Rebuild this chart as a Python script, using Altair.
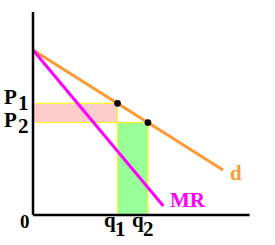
import altair as alt
import pandas as pd

# Economic model values (quantity on x, price on y)
demand_q = [0.0, 10.0]
demand_p = [10.0, 2.73]
mr_q = [0.0, 6.86]
mr_p = [10.0, 0.55]
q_vals = [4.45, 6.05]          # q1, q2
p_vals = [6.77, 5.60]          # P1, P2
axis_x_max = 11.4
axis_y_max = 12.3

# labels: text, x, y
lab_text = ["P", "1", "P", "2", "q", "1", "q", "2"]
lab_x = [-1.53, -0.79, -1.53, -0.79, 3.74, 4.32, 5.21, 5.79]
lab_y = [6.73, 6.36, 5.33, 4.97, -0.73, -1.27, -0.73, -1.27]

xs = alt.Scale(domain=[-1.737, 12.737], nice=False, zero=False)
ys = alt.Scale(domain=[-1.818, 13.03], nice=False, zero=False)

FONT = "Liberation Serif"

def X(f):
    return alt.X(f, type="quantitative", scale=xs, axis=None)

def Y(f):
    return alt.Y(f, type="quantitative", scale=ys, axis=None)

pink = alt.Chart(pd.DataFrame({"x": [0.0], "x2": [q_vals[0]], "y": [p_vals[1]], "y2": [p_vals[0]]})).mark_rect(
    fill="#FFCCCC", stroke="#FFFF00", strokeWidth=1
).encode(x=X("x"), x2="x2", y=Y("y"), y2="y2")

green = alt.Chart(pd.DataFrame({"x": [q_vals[0]], "x2": [q_vals[1]], "y": [0.0], "y2": [p_vals[1]]})).mark_rect(
    fill="#99FF99", stroke="#FFFF00", strokeWidth=1
).encode(x=X("x"), x2="x2", y=Y("y"), y2="y2")

demand = alt.Chart(pd.DataFrame({"x": [demand_q[0]], "x2": [demand_q[1]], "y": [demand_p[0]], "y2": [demand_p[1]]})).mark_rule(
    color="#FF9933", strokeWidth=3
).encode(x=X("x"), x2="x2", y=Y("y"), y2="y2")

mr = alt.Chart(pd.DataFrame({"x": [mr_q[0]], "x2": [mr_q[1]], "y": [mr_p[0]], "y2": [mr_p[1]]})).mark_rule(
    color="#FF00FF", strokeWidth=3
).encode(x=X("x"), x2="x2", y=Y("y"), y2="y2")

axes = alt.Chart(pd.DataFrame({"x": [0.0, 0.0], "x2": [0.0, axis_x_max], "y": [0.0, 0.0], "y2": [axis_y_max, 0.0]})).mark_rule(
    color="black", strokeWidth=2.5
).encode(x=X("x"), x2="x2", y=Y("y"), y2="y2")

pts = alt.Chart(pd.DataFrame({"x": q_vals, "y": p_vals})).mark_point(
    filled=True, color="black", size=45, opacity=1
).encode(x=X("x"), y=Y("y"))

labels = alt.Chart(pd.DataFrame({"t": lab_text, "x": lab_x, "y": lab_y})).mark_text(
    font=FONT, fontWeight="bold", fontSize=21, align="left", baseline="alphabetic", color="black"
).encode(x=X("x"), y=Y("y"), text="t:N")

zero_lab = alt.Chart(pd.DataFrame({"t": ["0"], "x": [-0.68], "y": [-0.79]})).mark_text(
    font=FONT, fontWeight="bold", fontSize=19, align="left", baseline="alphabetic", color="black"
).encode(x=X("x"), y=Y("y"), text="t:N")

d_lab = alt.Chart(pd.DataFrame({"t": ["d"], "x": [10.37], "y": [2.12]})).mark_text(
    font=FONT, fontWeight="bold", fontSize=21, align="left", baseline="alphabetic", color="#FF9933"
).encode(x=X("x"), y=Y("y"), text="t:N")

mr_lab = alt.Chart(pd.DataFrame({"t": ["MR"], "x": [7.21], "y": [0.49]})).mark_text(
    font=FONT, fontWeight="bold", fontSize=21, align="left", baseline="alphabetic", color="#FF00FF"
).encode(x=X("x"), y=Y("y"), text="t:N")

chart = alt.layer(pink, green, demand, mr, axes, pts, labels, zero_lab, d_lab, mr_lab).properties(
    width=275, height=245, padding=0, autosize="none", background="white"
).configure_view(strokeWidth=0)

chart.save("out.html", embed_options={"renderer": "svg", "actions": False})
